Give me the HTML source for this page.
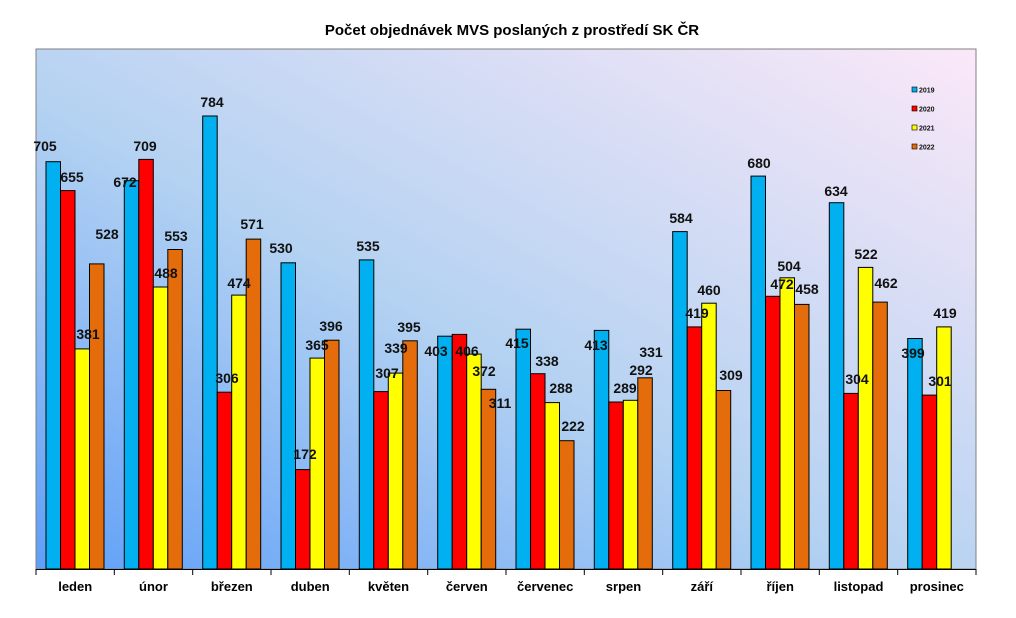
<!DOCTYPE html>
<html><head><meta charset="utf-8"><style>
html,body{margin:0;padding:0;background:#fff;}
svg{display:block;font-family:"Liberation Sans",Arial,sans-serif;}
</style></head><body>
<svg width="1016" height="618" viewBox="0 0 1016 618" xmlns="http://www.w3.org/2000/svg">
<defs>
<linearGradient id="bg" x1="0" y1="1" x2="1" y2="0">
<stop offset="0" stop-color="#5f9ff8"/>
<stop offset="0.45" stop-color="#b4d2f2"/>
<stop offset="1" stop-color="#fbe8f8"/>
</linearGradient>
</defs>
<text x="512" y="35" text-anchor="middle" font-size="15" font-weight="bold" fill="#000">Počet objednávek MVS poslaných z prostředí SK ČR</text>
<rect x="36" y="49" width="940" height="520" fill="url(#bg)" stroke="#808080" stroke-width="1"/>
<g id="bars" stroke="#000" stroke-width="1"></g>
<g id="labels" font-size="14" font-weight="bold" fill="#111" text-anchor="middle"></g>
<line x1="36" y1="569.5" x2="976" y2="569.5" stroke="#000"/>
<g id="ticks" stroke="#000"></g>
<g id="cats" font-size="13" font-weight="bold" fill="#000" text-anchor="middle"></g>
<g font-size="7" font-weight="bold" fill="#111">
<rect x="912" y="87" width="5" height="5" fill="#00b0f0" stroke="#000" stroke-width="0.6"/><text x="919" y="92.5">2019</text>
<rect x="912" y="106" width="5" height="5" fill="#ff0000" stroke="#000" stroke-width="0.6"/><text x="919" y="111.5">2020</text>
<rect x="912" y="125" width="5" height="5" fill="#ffff00" stroke="#000" stroke-width="0.6"/><text x="919" y="130.5">2021</text>
<rect x="912" y="144" width="5" height="5" fill="#e46c0a" stroke="#000" stroke-width="0.6"/><text x="919" y="149.5">2022</text>
</g>
</svg>
<script>
var ns="http://www.w3.org/2000/svg";
var data=[[705,655,381,528],[672,709,488,553],[784,306,474,571],[530,172,365,396],[535,307,339,395],[403,406,372,311],[415,338,288,222],[413,289,292,331],[584,419,460,309],[680,472,504,458],[634,304,522,462],[399,301,419,null]];
var lbl=[[[45,146],[72,177],[88,334],[107,234]],[[125,182],[145,146],[166,273],[176,236]],[[212,102],[227,378],[239,283],[252,224]],[[281,248],[305,454],[317,345],[331,326]],[[368,246],[387,373],[396,348],[409,327]],[[436,351],[467,351],[484,371],[500,403]],[[517,343],[547,361],[561,388],[573,426]],[[596,345],[625,388],[641,370],[651,352]],[[681,218],[697,313],[709,290],[731,375]],[[759,163],[782,284],[789,266],[807,289]],[[836,191],[857,379],[866,254],[886,283]],[[913,353],[940,381],[945,313]]];
var cols=["#00b0f0","#ff0000","#ffff00","#e46c0a"];
var cats=["leden","únor","březen","duben","květen","červen","červenec","srpen","září","říjen","listopad","prosinec"];
var B=document.getElementById("bars"),L=document.getElementById("labels"),T=document.getElementById("ticks"),C=document.getElementById("cats");
var k=520/900,cw=940/12;
function el(p,n,a){var e=document.createElementNS(ns,n);for(var x in a)e.setAttribute(x,a[x]);p.appendChild(e);return e;}
for(var i=0;i<12;i++){
 var c=36+i*cw;
 for(var j=0;j<4;j++){
  var v=data[i][j]; if(v==null)continue;
  var h=v*k;
  el(B,"rect",{x:(c+10+j*14.5).toFixed(1),y:(569-h).toFixed(1),width:14.5,height:h.toFixed(1),fill:cols[j]});
  var t=el(L,"text",{x:lbl[i][j][0],y:lbl[i][j][1]+5});t.textContent=v;
 }
 el(T,"line",{x1:c.toFixed(1),y1:569,x2:c.toFixed(1),y2:575});
 var ct=el(C,"text",{x:(c+cw/2).toFixed(1),y:591});ct.textContent=cats[i];
}
el(T,"line",{x1:976,y1:569,x2:976,y2:575});
</script>
</body></html>
